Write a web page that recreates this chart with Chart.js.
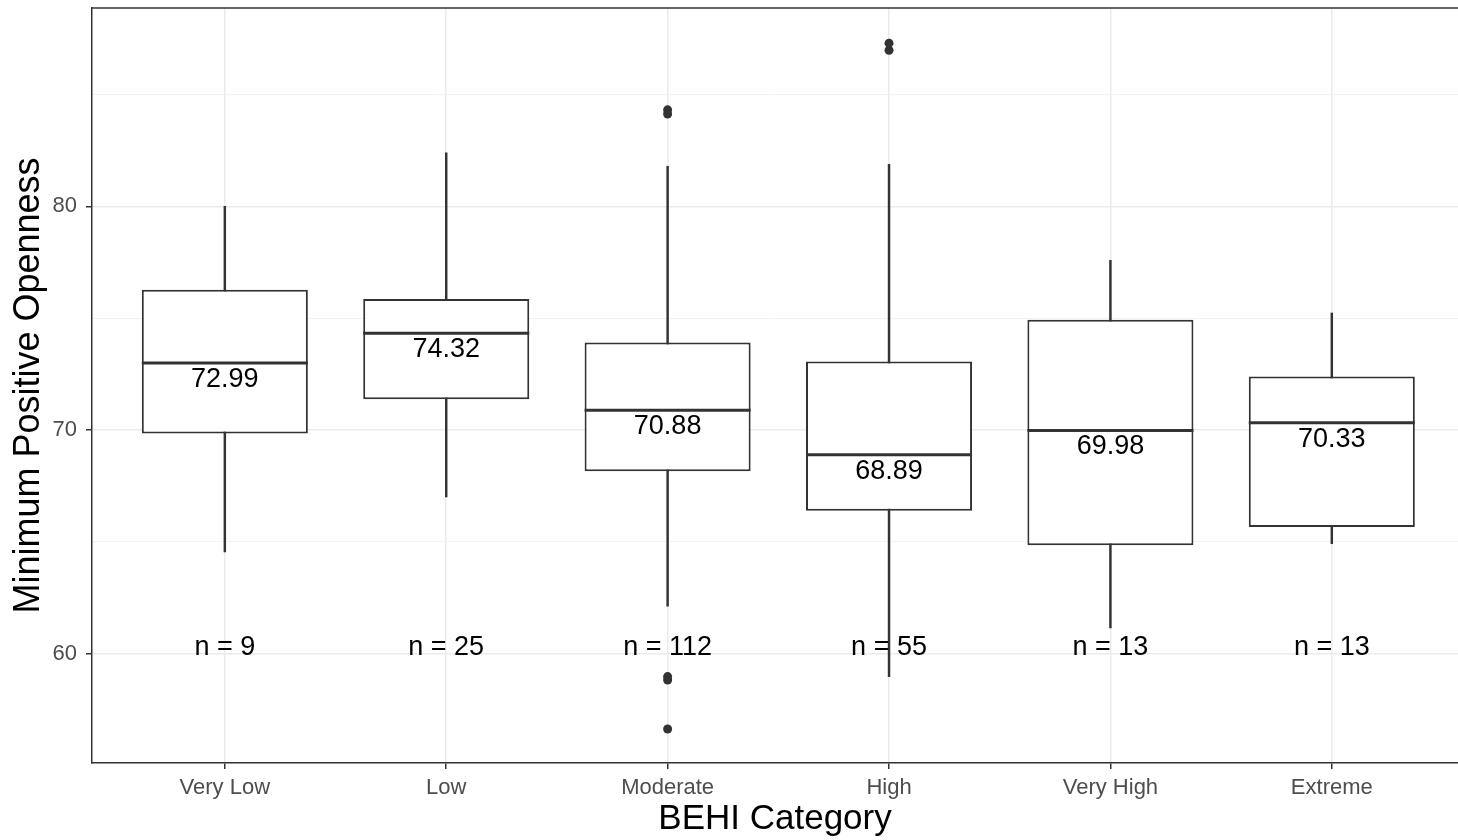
<!DOCTYPE html>
<html>
  <head>
    <meta charset='utf-8'>
    <title>Minimum Positive Openness by BEHI Category</title>
    <style>
      body { margin: 0; background: #fff; }
      canvas { display: block; }
    </style>
    <script src='https://cdn.jsdelivr.net/npm/chart.js@4.4.1/dist/chart.umd.min.js'></script>
  </head>
  <body>
    <canvas id='box' width='1458' height='840'></canvas>

    <script>
    // summary stats
    var categories = ['Very Low', 'Low', 'Moderate', 'High', 'Very High', 'Extreme'];
    var whiskerLow = [64.55, 67.01, 62.13, 58.98, 61.16, 64.92];
    var q1 = [69.85, 71.37, 68.16, 66.39, 64.85, 65.67];
    var median = [72.99, 74.32, 70.88, 68.89, 69.98, 70.33];
    var q3 = [76.27, 75.85, 73.91, 73.06, 74.93, 72.39];
    var whiskerHigh = [80.0, 82.39, 81.79, 81.87, 77.58, 75.23];
    var counts = [9, 25, 112, 55, 13, 13];

    // outliers: category position (1-based) and value
    var outlierCat = [3, 3, 3, 3, 3, 4, 4];
    var outlierVal = [84.31, 84.12, 58.98, 58.83, 56.64, 87.29, 86.97];

    var yGrid = [60, 65, 70, 75, 80, 85];
    var yLabelled = [60, 70, 80];
    var nLabelY = 60;

    var font = "'Liberation Sans', Arial, sans-serif";
    var ink = '#333333';

    Chart.defaults.font.family = font;

    var boxAnnotations = {
      id: 'boxAnnotations',
      afterDatasetsDraw: function (chart) {
        var ctx = chart.ctx;
        var y = chart.scales.y;
        var area = chart.chartArea;
        var boxes = chart.getDatasetMeta(0).data;

        ctx.save();
        // top edge of the panel
        ctx.strokeStyle = ink;
        ctx.lineWidth = 1.5;
        ctx.beginPath();
        ctx.moveTo(area.left, area.top);
        ctx.lineTo(chart.width, area.top);
        ctx.stroke();

        // medians
        ctx.lineWidth = 3;
        boxes.forEach(function (bar, i) {
          var py = y.getPixelForValue(median[i]);
          ctx.beginPath();
          ctx.moveTo(bar.x - bar.width / 2, py);
          ctx.lineTo(bar.x + bar.width / 2, py);
          ctx.stroke();
        });

        ctx.fillStyle = '#000';
        ctx.font = '27px ' + font;
        ctx.textAlign = 'center';
        ctx.textBaseline = 'alphabetic';
        boxes.forEach(function (bar, i) {
          ctx.fillText(median[i].toFixed(2), bar.x, y.getPixelForValue(median[i]) + 24);
          ctx.fillText('n = ' + counts[i], bar.x, y.getPixelForValue(nLabelY) + 1);
        });
        ctx.restore();
      }
    };

    var boxData = categories.map(function (c, i) {
      return { x: i + 1, y: [q1[i], q3[i]] };
    });
    var whiskerData = categories.map(function (c, i) {
      return { x: i + 1, y: [whiskerLow[i], whiskerHigh[i]] };
    });
    var outlierData = outlierCat.map(function (c, i) {
      return { x: c, y: outlierVal[i] };
    });

    new Chart(document.getElementById('box').getContext('2d'), {
      type: 'bar',
      data: {
        datasets: [{
          data: boxData,
          backgroundColor: '#ffffff',
          borderColor: ink,
          borderWidth: 2,
          borderSkipped: false,
          grouped: false,
          categoryPercentage: 1,
          barPercentage: 0.75,
          order: 1
        }, {
          data: whiskerData,
          backgroundColor: ink,
          borderWidth: 0,
          barThickness: 1.8,
          grouped: false,
          order: 2
        }, {
          type: 'scatter',
          data: outlierData,
          backgroundColor: ink,
          borderWidth: 0,
          pointRadius: 4.5,
          order: 0
        }]
      },
      options: {
        responsive: false,
        animation: false,
        layout: {
          autoPadding: false,
          padding: { top: 8, right: 0, left: 0, bottom: 0 }
        },
        plugins: {
          legend: { display: false },
          tooltip: { enabled: false }
        },
        scales: {
          x: {
            type: 'linear',
            offset: false,
            min: 0.4,
            max: 6.57,
            afterBuildTicks: function (s) {
              s.ticks = categories.map(function (c, i) { return { value: i + 1 }; });
            },
            afterFit: function (s) {
              s.height = 77;
              s.paddingLeft = 0;
              s.paddingRight = 0;
            },
            ticks: {
              callback: function (v) { return categories[v - 1]; },
              color: '#4d4d4d',
              font: { size: 22 },
              padding: 6,
              autoSkip: false,
              maxRotation: 0
            },
            grid: {
              offset: false,
              color: '#ebebeb',
              lineWidth: 1.5,
              tickColor: ink,
              tickLength: 6,
              tickWidth: 1.5
            },
            border: { color: ink, width: 1.5 },
            title: {
              display: true,
              text: 'BEHI Category',
              color: '#000',
              font: { size: 35 },
              padding: { top: 0, bottom: 0 }
            }
          },
          y: {
            min: 55.12,
            max: 88.86,
            afterBuildTicks: function (s) {
              s.ticks = yGrid.map(function (v) { return { value: v }; });
            },
            afterFit: function (s) {
              s.width = 92;
              s.paddingTop = 0;
              s.paddingBottom = 0;
            },
            ticks: {
              callback: function (v) { return yLabelled.indexOf(v) >= 0 ? v : ''; },
              color: '#4d4d4d',
              font: { size: 22 },
              padding: 9
            },
            grid: {
              color: function (c) { return yLabelled.indexOf(c.tick.value) >= 0 ? '#ebebeb' : '#f2f2f2'; },
              lineWidth: function (c) { return yLabelled.indexOf(c.tick.value) >= 0 ? 1.5 : 1; },
              tickColor: function (c) { return yLabelled.indexOf(c.tick.value) >= 0 ? ink : 'rgba(0,0,0,0)'; },
              tickLength: 6,
              tickWidth: 1.5
            },
            border: { color: ink, width: 1.5 },
            title: {
              display: true,
              text: 'Minimum Positive Openness',
              color: '#000',
              font: { size: 36 },
              padding: { top: 7, bottom: 0 }
            }
          }
        }
      },
      plugins: [boxAnnotations]
    });
    </script>
  </body>
</html>
